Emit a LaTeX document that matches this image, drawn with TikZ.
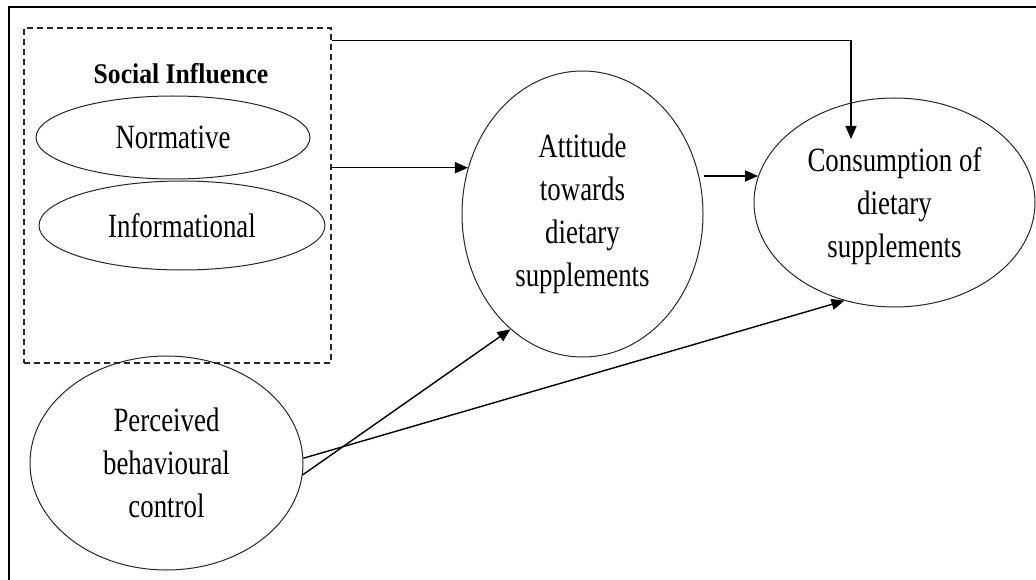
\documentclass[tikz,border=0pt]{standalone}
\usepackage{fontspec}
\setmainfont{Liberation Serif}[FakeStretch=0.79]
\newfontfamily\headfont{Liberation Serif}[FakeStretch=0.9]
\usetikzlibrary{shapes.geometric,arrows.meta}
\begin{document}
\begin{tikzpicture}[x=1pt,y=-1pt,
  oval/.style={draw=black!85,line width=1pt,ellipse,inner sep=0pt,align=center,
    font=\fontsize{34}{43}\selectfont},
  arr/.style={draw=black,line width=1.4pt,-{Triangle[length=13pt,width=11pt]}},
  groupbox/.style={draw=black!85,line width=1.2pt,dash pattern=on 6pt off 4pt,
    rectangle,inner sep=0pt}]
\useasboundingbox (0,0) rectangle (1036,580);
% outer frame (only top and left edges visible)
\draw[line width=2.2pt] (9,580) -- (9,7) -- (1036,7);
% social influence group
\node[groupbox,minimum width=307pt,minimum height=335pt] (si) at (177.5,195.5) {};
\node[font=\fontsize{28.5}{30}\headfont\bfseries] (sititle) at (181,74) {Social Influence};
\node[oval,minimum width=274pt,minimum height=83pt] (norm) at (173,137.5) {Normative};
\node[oval,minimum width=286pt,minimum height=89pt] (info) at (182,225.5) {Informational};
% main constructs
\node[oval,minimum width=273pt,minimum height=214pt] (pbc) at (166.5,463) {Perceived\\behavioural\\control};
\node[oval,minimum width=241pt,minimum height=286pt] (att) at (582.5,214) {Attitude\\towards\\dietary\\supplements};
\node[oval,minimum width=281pt,minimum height=209pt] (cons) at (894.5,202.5) {\rule{0pt}{0pt}\\[-12pt]Consumption of\\dietary\\supplements};
% connectors
\draw[arr] (si.east |- att.158) -- (att.158);
\draw[arr] (att.east |- cons.169) -- (cons.169);
\draw[arr] ([yshift=-13pt]si.north east) -| ([xshift=-43.5pt,yshift=63.5pt]cons.center);
\draw[arr] (pbc.-5) -- (att.238);
\draw[arr] (pbc.2) -- (cons.243);
\end{tikzpicture}
\end{document}
